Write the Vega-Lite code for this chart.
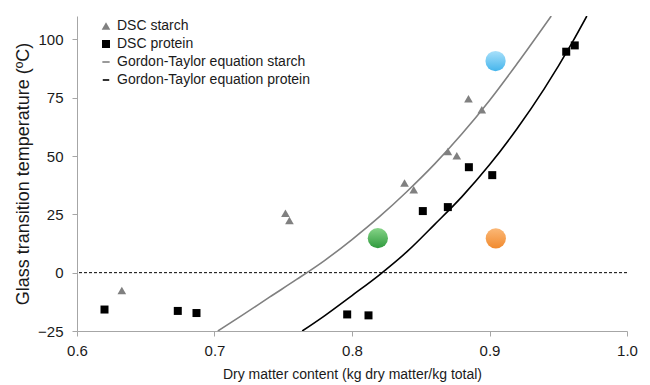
{
  "$schema": "https://vega.github.io/schema/vega-lite/v6.json",
  "width": 550,
  "height": 315,
  "autosize": {"type": "none"},
  "padding": {"left": 77, "top": 16, "right": 23, "bottom": 54},
  "background": "white",
  "config": {
    "view": {"stroke": null},
    "font": "Liberation Sans",
    "axis": {
      "grid": false,
      "domainColor": "#a6a6a6",
      "tickColor": "#a6a6a6",
      "tickSize": 5,
      "labelColor": "#1a1a1a",
      "titleColor": "#1a1a1a",
      "labelFont": "Liberation Sans",
      "titleFont": "Liberation Sans",
      "titleFontWeight": "normal",
      "labelFlush": false
    },
    "legend": {
      "labelFont": "Liberation Sans",
      "labelFontSize": 14,
      "labelColor": "#1a1a1a",
      "labelOffset": 4,
      "labelLimit": 400,
      "rowPadding": 4,
      "padding": 0
    }
  },
  "datasets": {
    "dsc": [
      {"x": 0.6326, "y": -7.6, "series": "DSC starch"},
      {"x": 0.7516, "y": 25.5, "series": "DSC starch"},
      {"x": 0.7545, "y": 22.4, "series": "DSC starch"},
      {"x": 0.8382, "y": 38.4, "series": "DSC starch"},
      {"x": 0.8449, "y": 35.5, "series": "DSC starch"},
      {"x": 0.8697, "y": 51.9, "series": "DSC starch"},
      {"x": 0.8762, "y": 50.1, "series": "DSC starch"},
      {"x": 0.8847, "y": 74.5, "series": "DSC starch"},
      {"x": 0.8944, "y": 69.8, "series": "DSC starch"},
      {"x": 0.62, "y": -15.8, "series": "DSC protein"},
      {"x": 0.6733, "y": -16.4, "series": "DSC protein"},
      {"x": 0.6869, "y": -17.3, "series": "DSC protein"},
      {"x": 0.7965, "y": -17.9, "series": "DSC protein"},
      {"x": 0.812, "y": -18.3, "series": "DSC protein"},
      {"x": 0.8515, "y": 26.4, "series": "DSC protein"},
      {"x": 0.8697, "y": 28.1, "series": "DSC protein"},
      {"x": 0.885, "y": 45.2, "series": "DSC protein"},
      {"x": 0.902, "y": 41.8, "series": "DSC protein"},
      {"x": 0.9558, "y": 94.7, "series": "DSC protein"},
      {"x": 0.962, "y": 97.4, "series": "DSC protein"}
    ],
    "gt": [
      {"x": 0.7024, "y": -25, "series": "Gordon-Taylor equation starch"},
      {"x": 0.72, "y": -18.3, "series": "Gordon-Taylor equation starch"},
      {"x": 0.74, "y": -10.5, "series": "Gordon-Taylor equation starch"},
      {"x": 0.76, "y": -2.8, "series": "Gordon-Taylor equation starch"},
      {"x": 0.78, "y": 5.2, "series": "Gordon-Taylor equation starch"},
      {"x": 0.80, "y": 14.2, "series": "Gordon-Taylor equation starch"},
      {"x": 0.82, "y": 24.0, "series": "Gordon-Taylor equation starch"},
      {"x": 0.84, "y": 34.8, "series": "Gordon-Taylor equation starch"},
      {"x": 0.86, "y": 46.5, "series": "Gordon-Taylor equation starch"},
      {"x": 0.88, "y": 59.5, "series": "Gordon-Taylor equation starch"},
      {"x": 0.90, "y": 73.8, "series": "Gordon-Taylor equation starch"},
      {"x": 0.92, "y": 89.5, "series": "Gordon-Taylor equation starch"},
      {"x": 0.9449, "y": 110, "series": "Gordon-Taylor equation starch"},
      {"x": 0.7638, "y": -25, "series": "Gordon-Taylor equation protein"},
      {"x": 0.78, "y": -18.5, "series": "Gordon-Taylor equation protein"},
      {"x": 0.80, "y": -9.8, "series": "Gordon-Taylor equation protein"},
      {"x": 0.82, "y": -0.9, "series": "Gordon-Taylor equation protein"},
      {"x": 0.84, "y": 9.0, "series": "Gordon-Taylor equation protein"},
      {"x": 0.86, "y": 20.6, "series": "Gordon-Taylor equation protein"},
      {"x": 0.88, "y": 32.6, "series": "Gordon-Taylor equation protein"},
      {"x": 0.90, "y": 46.2, "series": "Gordon-Taylor equation protein"},
      {"x": 0.92, "y": 61.7, "series": "Gordon-Taylor equation protein"},
      {"x": 0.94, "y": 79.0, "series": "Gordon-Taylor equation protein"},
      {"x": 0.96, "y": 98.5, "series": "Gordon-Taylor equation protein"},
      {"x": 0.9708, "y": 110, "series": "Gordon-Taylor equation protein"}
    ],
    "bubbles": [
      {"x": 0.9044, "y": 90.7, "name": "blue"},
      {"x": 0.9046, "y": 14.7, "name": "orange"},
      {"x": 0.8188, "y": 14.8, "name": "green"}
    ],
    "zero": [{"y": 0}]
  },
  "layer": [
    {
      "data": {"name": "zero"},
      "mark": {"type": "rule", "strokeDash": [3, 2], "color": "#000000", "strokeWidth": 1},
      "encoding": {
        "y": {
          "field": "y", "type": "quantitative",
          "scale": {"domain": [-25, 110], "nice": false, "zero": false},
          "axis": {
            "values": [-25, 0, 25, 50, 75, 100],
            "labelFontSize": 15, "labelPadding": 9,
            "title": "Glass transition temperature (ºC)",
            "titleFontSize": 18, "titlePadding": 5
          }
        }
      }
    },
    {
      "data": {"name": "gt"},
      "mark": {"type": "line", "clip": true, "strokeWidth": 1.6, "interpolate": "monotone"},
      "encoding": {
        "x": {
          "field": "x", "type": "quantitative",
          "scale": {"domain": [0.6, 1.0], "nice": false, "zero": false},
          "axis": {
            "values": [0.6, 0.7, 0.8, 0.9, 1.0], "format": ".1f",
            "labelFontSize": 15, "labelPadding": 7,
            "title": "Dry matter content (kg dry matter/kg total)",
            "titleFontSize": 14, "titlePadding": 9
          }
        },
        "y": {"field": "y", "type": "quantitative"},
        "color": {
          "field": "series", "type": "nominal",
          "scale": {
            "domain": ["DSC starch", "DSC protein", "Gordon-Taylor equation starch", "Gordon-Taylor equation protein"],
            "range": ["#808080", "#000000", "#808080", "#000000"]
          },
          "legend": {
            "title": null, "orient": "none", "legendX": 22, "legendY": 3,
            "encode": {
              "symbols": {
                "update": {
                  "stroke": {"signal": "scale('color', datum.value)"},
                  "strokeWidth": {"signal": "indexof(['Gordon-Taylor equation starch','Gordon-Taylor equation protein'], datum.value) >= 0 ? 1.6 : 0"},
                  "fill": {"signal": "indexof(['Gordon-Taylor equation starch','Gordon-Taylor equation protein'], datum.value) >= 0 ? 'transparent' : scale('color', datum.value)"},
                  "opacity": {"value": 1}
                }
              }
            }
          }
        },
        "detail": {"field": "series"}
      }
    },
    {
      "data": {"name": "dsc"},
      "mark": {"type": "point", "filled": true, "opacity": 1},
      "encoding": {
        "x": {"field": "x", "type": "quantitative"},
        "y": {"field": "y", "type": "quantitative"},
        "color": {
          "field": "series", "type": "nominal",
          "legend": {
            "title": null, "orient": "none", "legendX": 22, "legendY": 3,
            "encode": {
              "symbols": {
                "update": {
                  "stroke": {"signal": "scale('color', datum.value)"},
                  "strokeWidth": {"signal": "indexof(['Gordon-Taylor equation starch','Gordon-Taylor equation protein'], datum.value) >= 0 ? 1.6 : 0"},
                  "fill": {"signal": "indexof(['Gordon-Taylor equation starch','Gordon-Taylor equation protein'], datum.value) >= 0 ? 'transparent' : scale('color', datum.value)"},
                  "opacity": {"value": 1}
                }
              }
            }
          }
        },
        "shape": {
          "field": "series", "type": "nominal",
          "scale": {
            "domain": ["DSC starch", "DSC protein", "Gordon-Taylor equation starch", "Gordon-Taylor equation protein"],
            "range": ["triangle-up", "square", "stroke", "stroke"]
          },
          "legend": {
            "title": null, "orient": "none", "legendX": 22, "legendY": 3,
            "encode": {
              "symbols": {
                "update": {
                  "stroke": {"signal": "scale('color', datum.value)"},
                  "strokeWidth": {"signal": "indexof(['Gordon-Taylor equation starch','Gordon-Taylor equation protein'], datum.value) >= 0 ? 1.6 : 0"},
                  "fill": {"signal": "indexof(['Gordon-Taylor equation starch','Gordon-Taylor equation protein'], datum.value) >= 0 ? 'transparent' : scale('color', datum.value)"},
                  "opacity": {"value": 1}
                }
              }
            }
          }
        },
        "size": {
          "field": "series", "type": "nominal",
          "scale": {
            "domain": ["DSC starch", "DSC protein", "Gordon-Taylor equation starch", "Gordon-Taylor equation protein"],
            "range": [75, 42, 420, 420]
          },
          "legend": {
            "title": null, "orient": "none", "legendX": 22, "legendY": 3,
            "encode": {
              "symbols": {
                "update": {
                  "stroke": {"signal": "scale('color', datum.value)"},
                  "strokeWidth": {"signal": "indexof(['Gordon-Taylor equation starch','Gordon-Taylor equation protein'], datum.value) >= 0 ? 1.6 : 0"},
                  "fill": {"signal": "indexof(['Gordon-Taylor equation starch','Gordon-Taylor equation protein'], datum.value) >= 0 ? 'transparent' : scale('color', datum.value)"},
                  "opacity": {"value": 1}
                }
              }
            }
          }
        }
      }
    },
    {
      "data": {"name": "bubbles"},
      "transform": [{"filter": "datum.name == 'blue'"}],
      "mark": {"type": "circle", "size": 410, "opacity": 1,
        "color": {"gradient": "linear", "x1": 0, "y1": 0, "x2": 0, "y2": 1,
          "stops": [{"offset": 0, "color": "#a9e0fa"}, {"offset": 1, "color": "#45b5ec"}]}},
      "encoding": {
        "x": {"field": "x", "type": "quantitative"},
        "y": {"field": "y", "type": "quantitative"}
      }
    },
    {
      "data": {"name": "bubbles"},
      "transform": [{"filter": "datum.name == 'orange'"}],
      "mark": {"type": "circle", "size": 410, "opacity": 1,
        "color": {"gradient": "linear", "x1": 0, "y1": 0, "x2": 0, "y2": 1,
          "stops": [{"offset": 0, "color": "#fbb877"}, {"offset": 1, "color": "#f18a2e"}]}},
      "encoding": {
        "x": {"field": "x", "type": "quantitative"},
        "y": {"field": "y", "type": "quantitative"}
      }
    },
    {
      "data": {"name": "bubbles"},
      "transform": [{"filter": "datum.name == 'green'"}],
      "mark": {"type": "circle", "size": 410, "opacity": 1,
        "color": {"gradient": "linear", "x1": 0, "y1": 0, "x2": 0, "y2": 1,
          "stops": [{"offset": 0, "color": "#86d488"}, {"offset": 1, "color": "#2f9a3d"}]}},
      "encoding": {
        "x": {"field": "x", "type": "quantitative"},
        "y": {"field": "y", "type": "quantitative"}
      }
    }
  ]
}
